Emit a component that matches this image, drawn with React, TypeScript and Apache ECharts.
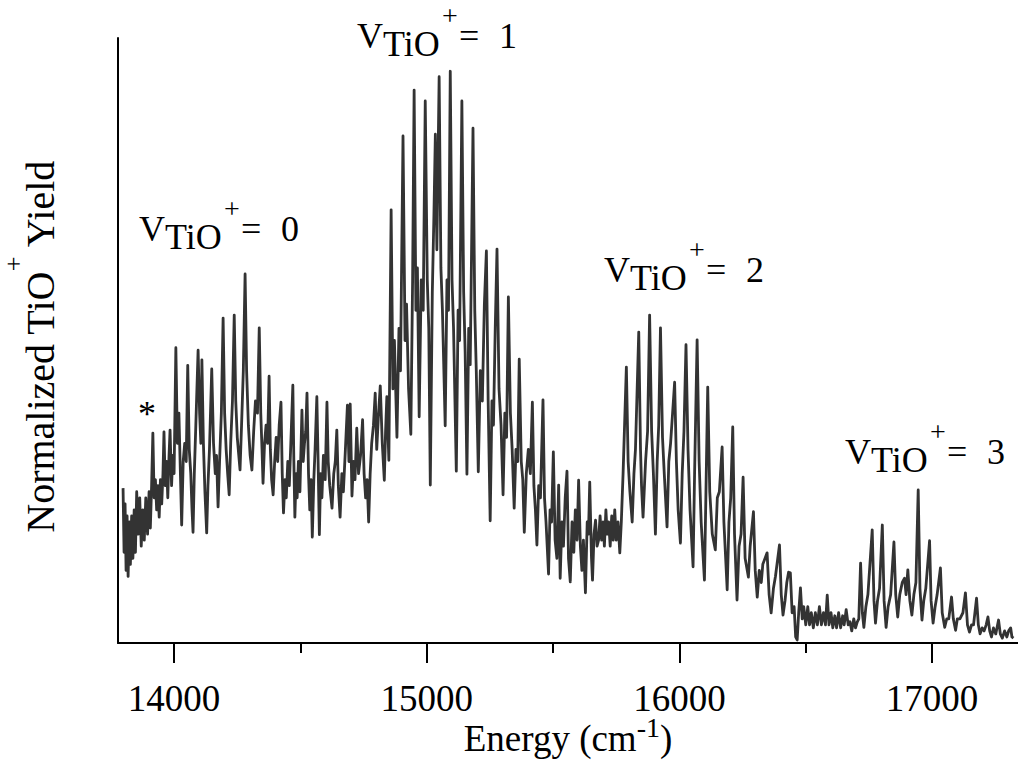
import React, { useEffect, useRef } from "react";
import * as echarts from "echarts";

// Axis extent and tick values (Energy, cm^-1)
const xMin = 13778;
const xMax = 17340;
const xMajorTicks = [14000, 15000, 16000, 17000];
const xMinorTicks = [14500, 15500, 16500];
const yMin = 0;
const yMax = 100;

// Normalized TiO+ yield, [energy, yield]
const bandV0: number[][] = [
  [13798, 25.6], [13802, 15], [13806, 23], [13810, 12], [13814, 21], [13818, 11], [13823, 20], [13827, 13],
  [13832, 21], [13837, 14], [13842, 22], [13847, 15], [13852, 25], [13858, 18], [13864, 24], [13870, 16],
  [13876, 22], [13882, 17], [13888, 24], [13895, 18], [13901, 25], [13906, 19], [13911, 26], [13916, 34.7],
  [13921, 24], [13926, 27], [13931, 22], [13936, 26], [13941, 20.8], [13946, 27], [13951, 23], [13956, 28],
  [13960, 34.9], [13965, 26], [13970, 30], [13975, 24], [13980, 31], [13984, 35.2], [13990, 26], [13995, 31],
  [14000, 28], [14007, 48.8], [14013, 33], [14019, 38], [14025, 28], [14030, 19.5], [14036, 30], [14042, 33],
  [14048, 30], [14054, 45.9], [14060, 32], [14066, 28], [14071, 22], [14075, 18.3], [14080, 28], [14086, 36],
  [14095, 48.4], [14101, 38], [14106, 33], [14110, 46.8], [14116, 33], [14122, 25], [14129, 18.2], [14134, 26],
  [14140, 32], [14149, 45.3], [14156, 33], [14163, 28], [14168, 31], [14174, 22.5], [14180, 30], [14187, 38],
  [14194, 53.7], [14200, 38], [14206, 32], [14212, 28], [14218, 24.5], [14224, 33], [14231, 40], [14238, 54.2],
  [14244, 40], [14250, 34], [14256, 31], [14261, 28.6], [14267, 36], [14274, 45], [14281, 61.0], [14287, 45],
  [14294, 36], [14301, 31], [14308, 28.6], [14315, 35], [14322, 40], [14330, 38], [14337, 52.1], [14343, 38],
  [14348, 32], [14352, 26.4], [14358, 33], [14364, 36], [14370, 33], [14376, 44.1], [14381, 32], [14386, 27],
  [14392, 24.5], [14398, 30], [14404, 34], [14410, 30], [14416, 36], [14423, 39.8], [14428, 28], [14433, 21.5],
  [14439, 27], [14444, 24], [14450, 30], [14456, 26], [14462, 33], [14470, 42.6], [14474, 30], [14478, 20.8],
  [14483, 28], [14487, 24], [14492, 30], [14498, 25], [14506, 38.5], [14511, 30], [14516, 33], [14521, 35],
  [14526, 41.3], [14532, 28], [14537, 22], [14542, 27], [14547, 17.5], [14553, 27], [14558, 32], [14565, 40.7],
  [14570, 30], [14575, 17.9], [14580, 28], [14585, 24], [14591, 31], [14598, 27], [14605, 39.8], [14610, 30],
  [14616, 26], [14625, 22.3], [14632, 28], [14638, 30], [14644, 35.2], [14650, 26], [14657, 20.8], [14664, 28],
  [14670, 25], [14678, 32], [14686, 39.3], [14692, 30], [14697, 39.5], [14704, 24.3], [14710, 30], [14716, 27],
  [14723, 35.5], [14730, 28], [14738, 31], [14746, 36.9], [14752, 28], [14758, 24], [14764, 27], [14770, 20.0],
  [14776, 28], [14782, 33], [14789, 36], [14796, 41.3], [14802, 32], [14808, 37], [14816, 42.5], [14824, 33],
  [14832, 26.9], [14837, 35], [14842, 40.7], [14850, 30.2],
];

const bandV1: number[][] = [
  [14859, 71.6], [14866, 42], [14872, 50], [14882, 34.0], [14890, 52], [14896, 45], [14906, 83.8], [14914, 50],
  [14920, 56], [14928, 42], [14937, 34.5], [14944, 60], [14950, 91.4], [14957, 55], [14963, 62], [14970, 37.4],
  [14978, 60], [14986, 55], [14994, 89.6], [15002, 60], [15008, 52], [15014, 26.1], [15022, 58], [15028, 70],
  [15034, 84.1], [15040, 65], [15049, 93.6], [15056, 62], [15062, 55], [15073, 35.9], [15080, 60], [15086, 55],
  [15093, 94.5], [15100, 60], [15106, 52], [15117, 28.4], [15124, 55], [15130, 50], [15139, 89.6], [15146, 58],
  [15152, 48], [15159, 27.9], [15166, 52], [15172, 46], [15183, 85.1], [15190, 55], [15196, 45], [15204, 28.3],
  [15212, 45], [15220, 40], [15228, 56], [15236, 64.8], [15243, 40], [15251, 20.2], [15258, 40], [15264, 36],
  [15271, 52], [15278, 65.1], [15286, 42], [15294, 36], [15302, 24.5], [15309, 38], [15316, 34], [15323, 57.2],
  [15331, 38], [15338, 32], [15346, 22.3], [15353, 32], [15360, 30], [15366, 46.9], [15374, 30], [15380, 27],
  [15386, 18.3], [15394, 28], [15402, 32], [15410, 28], [15418, 39.8], [15424, 26], [15430, 22], [15436, 16.2],
  [15443, 26], [15450, 24], [15460, 40.2], [15466, 24], [15472, 20], [15482, 11.4], [15488, 22], [15494, 20],
  [15501, 31.6], [15508, 17], [15515, 14], [15522, 26.1], [15528, 10.7], [15535, 20], [15541, 16], [15548, 24],
  [15555, 28.4], [15561, 14], [15568, 10.1], [15575, 20], [15582, 15], [15588, 22], [15595, 17], [15601, 26.9],
  [15608, 16], [15614, 12], [15620, 17], [15628, 8.3], [15635, 20], [15640, 18], [15645, 26.6], [15652, 14],
  [15656, 10.4], [15662, 18], [15668, 20.3], [15674, 16], [15680, 17], [15686, 21], [15692, 17], [15698, 20],
  [15703, 16], [15709, 22], [15714, 18], [15720, 20], [15726, 16], [15732, 21], [15738, 17], [15744, 22],
  [15750, 17], [15757, 20], [15764, 14.9],
];

const bandV2: number[][] = [
  [15770, 20], [15777, 28], [15790, 45.6], [15797, 30], [15804, 25], [15813, 20.0], [15820, 28], [15826, 32],
  [15839, 51.4], [15846, 32], [15850, 26], [15856, 20.8], [15866, 30], [15874, 35], [15882, 54.2], [15890, 35],
  [15897, 28], [15905, 18.0], [15912, 30], [15918, 36], [15925, 52.1], [15933, 34], [15940, 28], [15951, 19.2],
  [15958, 30], [15965, 33], [15981, 43.1], [15988, 30], [15995, 22], [16004, 16.5], [16011, 28], [16018, 35],
  [16026, 49.3], [16034, 32], [16042, 22], [16054, 12.6], [16060, 28], [16070, 50.1], [16078, 30], [16086, 20],
  [16099, 10.4], [16105, 25], [16112, 42.3], [16120, 25], [16130, 18], [16142, 15.4], [16150, 24], [16158, 25],
  [16169, 32.4], [16176, 20], [16189, 8.8], [16196, 20], [16203, 24], [16211, 35.7], [16218, 18], [16228, 7.1],
  [16236, 16], [16244, 18], [16252, 27.4], [16260, 14], [16273, 10.9], [16280, 16], [16293, 21.7], [16300, 12],
  [16308, 7.6], [16316, 12], [16324, 10], [16330, 13], [16347, 14.9], [16355, 8], [16363, 5.0], [16372, 9],
  [16380, 11], [16396, 16.2], [16403, 8], [16410, 4.6], [16418, 7], [16425, 10], [16432, 11.7], [16439, 11.6],
  [16446, 5], [16454, 6], [16460, 1], [16466, 0.5], [16472, 5], [16479, 9.1], [16486, 4], [16492, 6],
  [16500, 3], [16508, 6], [16515, 3], [16522, 5], [16530, 2.5], [16538, 5], [16546, 3], [16554, 6],
  [16562, 3], [16570, 5], [16578, 3], [16585, 7.9], [16592, 3], [16600, 5], [16607, 2.5], [16615, 4.5],
  [16622, 2.5], [16630, 5], [16638, 2.5], [16646, 4.5], [16652, 3], [16660, 5.5], [16668, 3], [16675, 3.5],
  [16682, 2], [16690, 4], [16697, 2.5], [16704, 3.5], [16710, 4],
];

const bandV3: number[][] = [
  [16717, 13.2], [16724, 5], [16730, 2.6], [16738, 6], [16746, 8], [16763, 18.7], [16770, 7], [16776, 3.3],
  [16784, 7], [16792, 9], [16803, 19.5], [16810, 7], [16818, 2.6], [16826, 6], [16836, 8], [16849, 16.7],
  [16856, 8], [16864, 4.3], [16872, 8], [16882, 10], [16891, 10.7], [16897, 8], [16904, 12.1], [16912, 7],
  [16920, 4.6], [16928, 8], [16936, 10], [16945, 25.3], [16952, 9], [16960, 3.8], [16967, 7], [16975, 9],
  [16990, 16.9], [16996, 7], [17004, 3.3], [17012, 6], [17020, 8], [17033, 12.4], [17040, 5], [17050, 2.6],
  [17058, 4], [17066, 4], [17077, 7.6], [17084, 4], [17093, 2.1], [17100, 4], [17110, 4], [17122, 5],
  [17132, 8.3], [17140, 3], [17148, 1.8], [17156, 3], [17164, 3], [17176, 7.4], [17183, 3], [17190, 1.5],
  [17198, 2.5], [17206, 2], [17214, 3], [17221, 4.3], [17228, 2], [17235, 1.0], [17243, 2.5], [17252, 1.5],
  [17263, 3.8], [17270, 1.5], [17278, 0.8], [17287, 2], [17296, 1], [17303, 2], [17311, 2.5], [17316, 1],
  [17322, 0.8],
];

// Vibrational-level labels
const levelLabels = ["0", "1", "2", "3"];

const FONT = "'Liberation Serif', 'Times New Roman', serif";

export default function App() {
  const ref = useRef<HTMLDivElement>(null);

  useEffect(() => {
    if (!ref.current) return;
    const chart = echarts.init(ref.current, null, { renderer: "svg" });

    const spectrum = [...bandV0, ...bandV1, ...bandV2, ...bandV3];

    // pixel anchors for the "V_TiO+ = n" annotations (left of V, centre of V)
    const annPos = [
      [139, 229],
      [357, 36],
      [604, 270],
      [845, 452],
    ];
    const txt = (text: string, x: number, y: number, size: number, lh?: number) => ({
      type: "text",
      x,
      y,
      silent: true,
      style: {
        text,
        fill: "#000",
        fontSize: size,
        fontFamily: FONT,
        lineHeight: lh,
        align: "left",
        verticalAlign: "middle",
        textAlign: "left",
        textVerticalAlign: "middle",
      },
    });
    const graphics: any[] = [];
    levelLabels.forEach((lvl, i) => {
      const [x, y] = annPos[i];
      graphics.push(txt("V", x, y, 36));
      graphics.push(txt("TiO", x + 26, y + 8, 36));
      graphics.push(txt("+", x + 85, y - 21, 28, 16));
      graphics.push(txt("=", x + 102, y, 36));
      graphics.push(txt(lvl, x + 142, y, 36));
    });
    graphics.push(txt("*", 138, 414, 36));

    const axisLineStyle = { color: "#000", width: 2 };

    chart.setOption({
      animation: false,
      backgroundColor: "#fff",
      grid: {
        left: 118,
        right: 0,
        top: 38,
        bottom: 124,
        containLabel: false,
        outerBoundsMode: "none",
      },
      xAxis: [
        {
          type: "value",
          min: xMin,
          max: xMax,
          position: "bottom",
          axisLine: { show: true, onZero: false, lineStyle: axisLineStyle },
          axisTick: { show: true, customValues: xMajorTicks, length: 20, lineStyle: axisLineStyle },
          axisLabel: {
            show: true,
            customValues: xMajorTicks,
            margin: 37,
            fontSize: 37,
            fontFamily: FONT,
            color: "#000",
            formatter: (v: number) => String(v),
          },
          splitLine: { show: false },
          name: "{a|Energy (cm}{b|-1}{a|)}",
          nameLocation: "middle",
          nameGap: 70,
          nameMoveOverlap: false,
          nameTextStyle: {
            color: "#000",
            fontFamily: FONT,
            fontSize: 37,
            rich: {
              a: { fontFamily: FONT, fontSize: 37, color: "#000", lineHeight: 44, verticalAlign: "bottom" },
              b: { fontFamily: FONT, fontSize: 28, color: "#000", lineHeight: 2, verticalAlign: "top" },
            },
          },
        },
        {
          type: "value",
          min: xMin,
          max: xMax,
          position: "bottom",
          axisLine: { show: false, onZero: false },
          axisTick: { show: true, customValues: xMinorTicks, length: 10, lineStyle: axisLineStyle },
          axisLabel: { show: false },
          splitLine: { show: false },
        },
      ],
      yAxis: {
        type: "value",
        min: yMin,
        max: yMax,
        axisLine: { show: true, onZero: false, lineStyle: axisLineStyle },
        axisTick: { show: false },
        axisLabel: { show: false },
        splitLine: { show: false },
        name: "{a|Normalized TiO}{b|+}{a| Yield}",
        nameLocation: "middle",
        nameRotate: 90,
        nameGap: 58,
        nameMoveOverlap: false,
        nameTextStyle: {
          color: "#000",
          fontFamily: FONT,
          fontSize: 40,
          padding: [0, 12, 0, 0],
          rich: {
            a: { fontFamily: FONT, fontSize: 40, color: "#000", lineHeight: 60, verticalAlign: "bottom" },
            b: { fontFamily: FONT, fontSize: 26, color: "#000", lineHeight: 8, verticalAlign: "top" },
          },
        },
      },
      series: [
        {
          type: "line",
          xAxisIndex: 0,
          data: spectrum,
          showSymbol: false,
          symbol: "none",
          lineStyle: { color: "#333333", width: 2.8, join: "round" },
          silent: true,
        },
      ],
      graphic: graphics,
    });

    return () => chart.dispose();
  }, []);

  return (
    <div
      ref={ref}
      style={{ position: "fixed", left: 0, top: 0, width: 1018, height: 767, background: "#fff" }}
    />
  );
}
